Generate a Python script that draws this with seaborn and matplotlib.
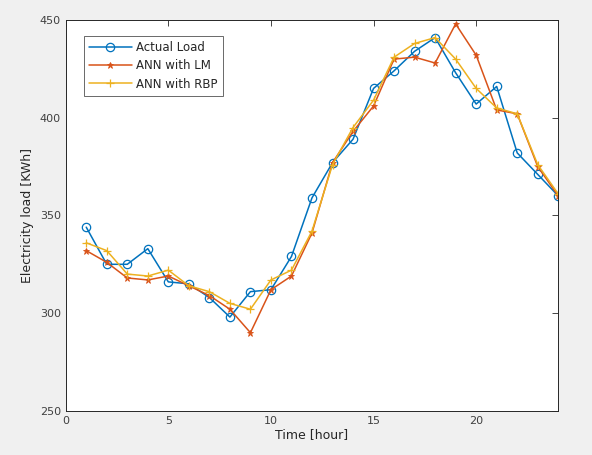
import matplotlib
matplotlib.use("Agg")
import matplotlib.pyplot as plt
import seaborn as sns
import pandas as pd

hours = list(range(1, 25))
actual_load = [344, 325, 325, 333, 316, 315, 308, 298, 311, 312, 329, 359,
               377, 389, 415, 424, 434, 441, 423, 407, 416, 382, 371, 360]
ann_lm = [332, 326, 318, 317, 319, 314, 309, 302, 290, 312, 319, 341,
          377, 393, 406, 430, 431, 428, 448, 432, 404, 402, 375, 360]
ann_rbp = [336, 332, 320, 319, 322, 314, 311, 305, 302, 317, 322, 342,
           376, 395, 409, 431, 438, 441, 430, 415, 405, 402, 376, 361]

series_names = ["Actual Load", "ANN with LM", "ANN with RBP"]
x_ticks = [0, 5, 10, 15, 20]
y_ticks = [250, 300, 350, 400, 450]

sns.set_style("white")
plt.rcParams["font.family"] = ["DejaVu Sans"]

fig = plt.figure(figsize=(5.92, 4.55), dpi=100, facecolor="#f0f0f0")
ax = fig.add_axes([0.111, 0.097, 0.832, 0.859])
ax.set_facecolor("white")

df = pd.DataFrame({
    "hour": hours * 3,
    "load": actual_load + ann_lm + ann_rbp,
    "series": [series_names[0]] * 24 + [series_names[1]] * 24 + [series_names[2]] * 24,
})

colors = ["#0072BD", "#D95319", "#EDB120"]
markers = ["o", "*", "+"]
for name, c, m in zip(series_names, colors, markers):
    sub = df[df["series"] == name]
    if m == "o":
        kw = dict(markersize=6, markerfacecolor="none", markeredgecolor=c, markeredgewidth=0.9)
    elif m == "*":
        kw = dict(markersize=5, markerfacecolor=c, markeredgecolor=c, markeredgewidth=0.6)
    else:
        kw = dict(markersize=6, markeredgecolor=c, markeredgewidth=0.9)
    sns.lineplot(data=sub, x="hour", y="load", ax=ax, color=c, marker=m,
                 linewidth=1.1, label=name, **kw)

ax.set_xlim(0, 24)
ax.set_ylim(250, 450)
ax.set_xticks(x_ticks)
ax.set_yticks(y_ticks)
ax.tick_params(direction="in", length=4, width=0.6, colors="#262626",
               labelsize=8, labelcolor="#404040", top=True, right=True)
for s in ax.spines.values():
    s.set_color("#262626")
    s.set_linewidth(0.7)
ax.set_xlabel("Time [hour]", fontsize=9, color="#262626", labelpad=2)
ax.set_ylabel("Electricity load [KWh]", fontsize=9, color="#262626", labelpad=4)

leg = ax.legend(loc="upper left", bbox_to_anchor=(0.025, 0.975), fontsize=8.5,
                frameon=True, fancybox=False, handlelength=3.6, borderpad=0.45,
                labelspacing=0.45, handletextpad=0.4)
leg.get_frame().set_edgecolor("#262626")
leg.get_frame().set_linewidth(0.6)

fig.savefig("out.png", dpi=100, facecolor=fig.get_facecolor())
